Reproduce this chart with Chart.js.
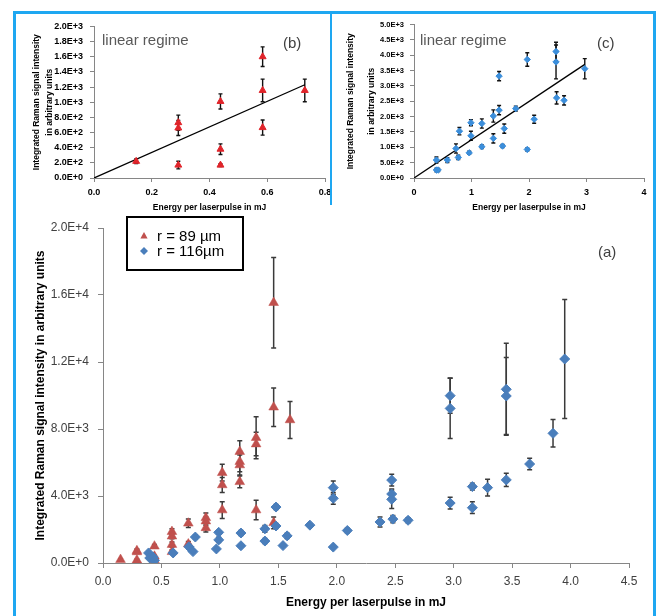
<!DOCTYPE html>
<html>
<head>
<meta charset="utf-8">
<script src="https://cdn.jsdelivr.net/npm/chart.js@4"></script>
<style>
  body { margin: 0; background: #fff; }
  #wrap { position: relative; width: 657px; height: 616px; overflow: hidden; background: #fff; font-family: 'Liberation Sans', Arial, sans-serif; }
  canvas { position: absolute; }
  .frame { position: absolute; background: #1EA7F1; z-index: 5; }
  .lbl { position: absolute; font-size: 15px; line-height: 18px; white-space: nowrap; z-index: 6; }
</style>
</head>
<body>
<div id="wrap">
  <canvas id="chartB" style="left:17px;top:14px" width="320" height="201"></canvas>
  <canvas id="chartC" style="left:333px;top:14px" width="324" height="201"></canvas>
  <canvas id="chartA" style="left:0px;top:205px" width="657" height="411"></canvas>

  <div class="frame" style="left:13px;top:11px;width:3px;height:605px"></div>
  <div class="frame" style="left:13px;top:11px;width:643px;height:3px"></div>
  <div class="frame" style="left:653px;top:11px;width:3px;height:605px"></div>
  <div class="frame" style="left:330px;top:11px;width:2px;height:194px"></div>

  <div class="lbl" style="left:102px;top:31px;color:#595959">linear regime</div>
  <div class="lbl" style="left:283px;top:34px;color:#404040">(b)</div>
  <div class="lbl" style="left:420px;top:31px;color:#595959">linear regime</div>
  <div class="lbl" style="left:597px;top:34px;color:#404040">(c)</div>
  <div class="lbl" style="left:598px;top:243px;color:#404040">(a)</div>
</div>
<script>
Chart.defaults.font.family = "'Liberation Sans', Arial, sans-serif";

// ---- main chart (a) ----
const mainXTicks = [0, 0.5, 1, 1.5, 2, 2.5, 3, 3.5, 4, 4.5];
const mainXLabels = ['0.0', '0.5', '1.0', '1.5', '2.0', '2.5', '3.0', '3.5', '4.0', '4.5'];
const mainYTicks = [0, 4000, 8000, 12000, 16000, 20000];
const mainYLabels = ['0.0E+0', '4.0E+3', '8.0E+3', '1.2E+4', '1.6E+4', '2.0E+4'];

// r = 89 um (red triangles)
const redX = [0.15, 0.29, 0.29, 0.29, 0.44, 0.44, 0.44, 0.59, 0.59, 0.59, 0.59, 0.73, 0.73,
  0.88, 0.88, 0.88, 1.02, 1.02, 1.02, 1.17, 1.17, 1.17, 1.17, 1.31, 1.31, 1.31, 1.46, 1.46, 1.46, 1.60];
const redY = [200, 730, 660, 170, 1000, 400, 180, 1870, 1600, 1100, 670, 2370, 1130,
  2700, 2500, 2100, 5390, 4660, 3160, 6650, 6050, 5850, 4850, 7480, 7100, 3160, 15540, 9300, 2400, 8540];
const redErr = [50, 100, 100, 50, 110, 70, 30, 180, 150, 150, 100, 250, 150,
  280, 250, 250, 500, 450, 500, 650, 600, 600, 350, 1250, 700, 580, 2700, 1150, 350, 1100];

// r = 116 um (blue diamonds)
const blueX = [0.39, 0.40, 0.43, 0.44, 0.60, 0.735, 0.77, 0.79, 0.97, 0.99, 0.99, 1.18, 1.18,
  1.385, 1.385, 1.48, 1.48, 1.54, 1.575, 1.77, 1.97, 1.97, 1.97, 2.09, 2.37, 2.47, 2.47, 2.47,
  2.48, 2.61, 2.97, 2.97, 2.97, 3.16, 3.16, 3.29, 3.45, 3.45, 3.45, 3.65, 3.85, 3.95];
const blueY = [600, 300, 350, 150, 600, 970, 680, 1550, 840, 1830, 1380, 1790, 1030,
  2040, 1310, 3340, 2210, 1040, 1620, 2260, 4500, 3860, 950, 1940, 2450, 4950, 4120, 3800,
  2620, 2550, 9990, 9230, 3580, 4560, 3300, 4500, 10370, 9970, 4960, 5910, 7740, 12180];
const blueErr = [100, 50, 50, 30, 60, 150, 70, 120, 50, 100, 150, 150, 60,
  200, 150, 150, 150, 50, 150, 80, 400, 350, 50, 130, 300, 350, 300, 550,
  220, 150, 1050, 1800, 350, 200, 350, 500, 2750, 2300, 400, 350, 820, 3550];

// ---- inset (b) ----
const bXTicks = [0, 0.2, 0.4, 0.6, 0.8];
const bXLabels = ['0.0', '0.2', '0.4', '0.6', '0.8'];
const bYTicks = [0, 200, 400, 600, 800, 1000, 1200, 1400, 1600, 1800, 2000];
const bYLabels = ['0.0E+0', '2.0E+2', '4.0E+2', '6.0E+2', '8.0E+2', '1.0E+3', '1.2E+3', '1.4E+3', '1.6E+3', '1.8E+3', '2.0E+3'];
const bX = [0.146, 0.292, 0.292, 0.292, 0.438, 0.438, 0.438, 0.584, 0.584, 0.584, 0.73];
const bY = [220, 730, 660, 170, 1010, 380, 170, 1600, 1155, 665, 1155];
const bErr = [30, 100, 100, 50, 100, 70, 20, 130, 150, 100, 150];
const bTrendX = [0, 0.73];
const bTrendY = [0, 1230];

// ---- inset (c) ----
const cXTicks = [0, 1, 2, 3, 4];
const cXLabels = ['0', '1', '2', '3', '4'];
const cYTicks = [0, 500, 1000, 1500, 2000, 2500, 3000, 3500, 4000, 4500, 5000];
const cYLabels = ['0.0E+0', '5.0E+2', '1.0E+3', '1.5E+3', '2.0E+3', '2.5E+3', '3.0E+3', '3.5E+3', '4.0E+3', '4.5E+3', '5.0E+3'];
const cX = [0.39, 0.39, 0.42, 0.58, 0.73, 0.77, 0.79, 0.96, 0.99, 0.99, 1.18, 1.18, 1.38, 1.38,
  1.48, 1.48, 1.54, 1.57, 1.77, 1.97, 1.97, 2.09, 2.47, 2.47, 2.48, 2.61, 2.97];
const cY = [585, 260, 260, 585, 960, 670, 1525, 820, 1800, 1375, 1020, 1775, 1290, 2020,
  3320, 2210, 1040, 1610, 2260, 3860, 930, 1915, 4120, 3780, 2610, 2530, 3560];
const cErr = [100, 60, 50, 80, 150, 70, 120, 50, 100, 150, 60, 150, 150, 200,
  150, 150, 50, 150, 80, 220, 50, 130, 300, 550, 200, 150, 330];
const cTrendX = [0, 2.97];
const cTrendY = [0, 3700];

const pts = (xs, ys) => xs.map((x, i) => ({ x: x, y: ys[i] }));

// error bars drawn under the markers
const errorBarPlugin = {
  id: 'errorBars',
  beforeDatasetsDraw(chart) {
    const ctx = chart.ctx;
    const yScale = chart.scales.y;
    chart.data.datasets.forEach((ds, i) => {
      if (!ds.errors) return;
      const meta = chart.getDatasetMeta(i);
      ctx.save();
      ctx.strokeStyle = ds.errorColor;
      ctx.lineWidth = ds.errorWidth;
      meta.data.forEach((pt, j) => {
        const e = ds.errors[j];
        const v = ds.data[j].y;
        const top = yScale.getPixelForValue(v + e);
        const bot = yScale.getPixelForValue(v - e);
        const c = ds.capSize;
        ctx.beginPath();
        ctx.moveTo(pt.x, top); ctx.lineTo(pt.x, bot);
        ctx.moveTo(pt.x - c, top); ctx.lineTo(pt.x + c, top);
        ctx.moveTo(pt.x - c, bot); ctx.lineTo(pt.x + c, bot);
        ctx.stroke();
      });
      ctx.restore();
    });
  }
};

// boxed legend of the main chart
const boxLegendPlugin = {
  id: 'boxLegend',
  afterDraw(chart) {
    const o = chart.options.plugins.boxLegend;
    if (!o) return;
    const ctx = chart.ctx;
    ctx.save();
    ctx.strokeStyle = '#000';
    ctx.lineWidth = 2;
    ctx.strokeRect(o.x, o.y, o.w, o.h);
    ctx.font = "15px 'Liberation Sans', Arial, sans-serif";
    ctx.textBaseline = 'middle';
    const items = chart.data.datasets.filter(d => d.legendRow !== undefined);
    items.forEach(d => {
      const cy = o.y + o.rowY[d.legendRow];
      const mx = o.x + o.markX;
      ctx.fillStyle = d.backgroundColor;
      ctx.beginPath();
      if (d.pointStyle === 'triangle') {
        ctx.moveTo(mx, cy - 4); ctx.lineTo(mx + 3.6, cy + 2.5); ctx.lineTo(mx - 3.6, cy + 2.5);
      } else {
        ctx.moveTo(mx, cy - 4); ctx.lineTo(mx + 4, cy); ctx.lineTo(mx, cy + 4); ctx.lineTo(mx - 4, cy);
      }
      ctx.closePath();
      ctx.fill();
      ctx.fillStyle = '#000';
      ctx.fillText(d.label, o.x + o.textX, cy + 1);
    });
    ctx.restore();
  }
};

function axis(o) {
  return {
    type: 'linear',
    min: o.ticks[0],
    max: o.ticks[o.ticks.length - 1],
    afterBuildTicks: s => { s.ticks = o.ticks.map(v => ({ value: v })); },
    afterFit: s => { if (o.w) s.width = o.w; else s.height = o.h; },
    ticks: {
      autoSkip: false, maxRotation: 0, padding: o.pad, color: o.tickColor || '#000',
      font: o.tickFont, callback: (v, i) => o.labels[i]
    },
    grid: { drawOnChartArea: false, tickLength: o.tl, tickColor: '#868686' },
    border: { color: '#868686', width: 1 },
    title: { display: true, text: o.title, color: '#000', font: o.titleFont, padding: o.titlePad }
  };
}

const baseOpts = {
  responsive: false,
  animation: false,
  plugins: { legend: { display: false }, tooltip: { enabled: false } }
};

// main chart (a)
new Chart(document.getElementById('chartA'), {
  type: 'scatter',
  data: {
    datasets: [
      {
        label: 'r = 89 µm', legendRow: 0, data: pts(redX, redY), errors: redErr,
        errorColor: '#3a3a3a', errorWidth: 1.5, capSize: 2.5,
        pointStyle: 'triangle', pointRadius: 5.6, backgroundColor: '#C0504D', borderColor: '#C0504D',
        borderWidth: 0.5, order: 2
      },
      {
        label: 'r = 116µm', legendRow: 1, data: pts(blueX, blueY), errors: blueErr,
        errorColor: '#3a3a3a', errorWidth: 1.5, capSize: 2.5,
        pointStyle: 'rectRot', pointRadius: 5, backgroundColor: '#4A7EBB', borderColor: '#4A7EBB',
        borderWidth: 1, order: 1
      }
    ]
  },
  options: Object.assign({}, baseOpts, {
    layout: { padding: { top: 23, right: 28, left: 0, bottom: 0 } },
    plugins: Object.assign({}, baseOpts.plugins, {
      boxLegend: { x: 127, y: 12, w: 116, h: 53, rowY: [19, 34], markX: 17, textX: 30 }
    }),
    scales: {
      x: axis({
        ticks: mainXTicks, labels: mainXLabels, h: 53, pad: 6, tl: 5, tickColor: '#404040',
        tickFont: { size: 12 }, title: 'Energy per laserpulse in mJ',
        titleFont: { size: 12, weight: 'bold' }, titlePad: { top: 0, bottom: 6 }
      }),
      y: axis({
        ticks: mainYTicks, labels: mainYLabels, w: 103, pad: 9, tl: 5, tickColor: '#404040',
        tickFont: { size: 12 }, title: 'Integrated Raman signal intensity in arbitrary units',
        titleFont: { size: 12, weight: 'bold' }, titlePad: { top: 33, bottom: 0 }
      })
    }
  }),
  plugins: [errorBarPlugin, boxLegendPlugin]
});

// inset (b)
new Chart(document.getElementById('chartB'), {
  type: 'scatter',
  data: {
    datasets: [
      {
        data: pts(bX, bY), errors: bErr, errorColor: '#111', errorWidth: 1.4, capSize: 2,
        pointStyle: 'triangle', pointRadius: 4, backgroundColor: '#E0242A', borderColor: '#E0242A', borderWidth: 1
      },
      {
        data: pts(bTrendX, bTrendY), showLine: true, pointRadius: 0, borderColor: '#000', borderWidth: 1.3
      }
    ]
  },
  options: Object.assign({}, baseOpts, {
    layout: { padding: { top: 10, right: 12, left: 0, bottom: 0 } },
    scales: {
      x: axis({
        ticks: bXTicks, labels: bXLabels, h: 37, pad: 5.5, tl: 4,
        tickFont: { size: 9, weight: 'bold' }, title: 'Energy per laserpulse in mJ',
        titleFont: { size: 8.5, weight: 'bold' }, titlePad: { top: 0, bottom: 2 }
      }),
      y: axis({
        ticks: bYTicks, labels: bYLabels, w: 77, pad: 7, tl: 4,
        tickFont: { size: 9, weight: 'bold' },
        title: ['Integrated Raman signal intensity', 'in arbitrary units'],
        titleFont: { size: 8.5, weight: 'bold', lineHeight: 1.5 }, titlePad: { top: 13.6, bottom: 0 }
      })
    }
  }),
  plugins: [errorBarPlugin]
});

// inset (c)
new Chart(document.getElementById('chartC'), {
  type: 'scatter',
  data: {
    datasets: [
      {
        data: pts(cX, cY), errors: cErr, errorColor: '#111', errorWidth: 1.4, capSize: 2,
        pointStyle: 'rectRot', pointRadius: 3.2, backgroundColor: '#3B8EDB', borderColor: '#3B8EDB', borderWidth: 1
      },
      {
        data: pts(cTrendX, cTrendY), showLine: true, pointRadius: 0, borderColor: '#000', borderWidth: 1.3
      }
    ]
  },
  options: Object.assign({}, baseOpts, {
    layout: { padding: { top: 10, right: 13, left: 0, bottom: 0 } },
    scales: {
      x: axis({
        ticks: cXTicks, labels: cXLabels, h: 37, pad: 5.5, tl: 4,
        tickFont: { size: 9, weight: 'bold' }, title: 'Energy per laserpulse in mJ',
        titleFont: { size: 8.5, weight: 'bold' }, titlePad: { top: 0, bottom: 2 }
      }),
      y: axis({
        ticks: cYTicks, labels: cYLabels, w: 81, pad: 6, tl: 4,
        tickFont: { size: 7.5, weight: 'bold' },
        title: ['Integrated Raman signal intensity', 'in arbitrary units'],
        titleFont: { size: 8.5, weight: 'bold', lineHeight: '21px' }, titlePad: { top: 7, bottom: 0 }
      })
    }
  }),
  plugins: [errorBarPlugin]
});
</script>
</body>
</html>
